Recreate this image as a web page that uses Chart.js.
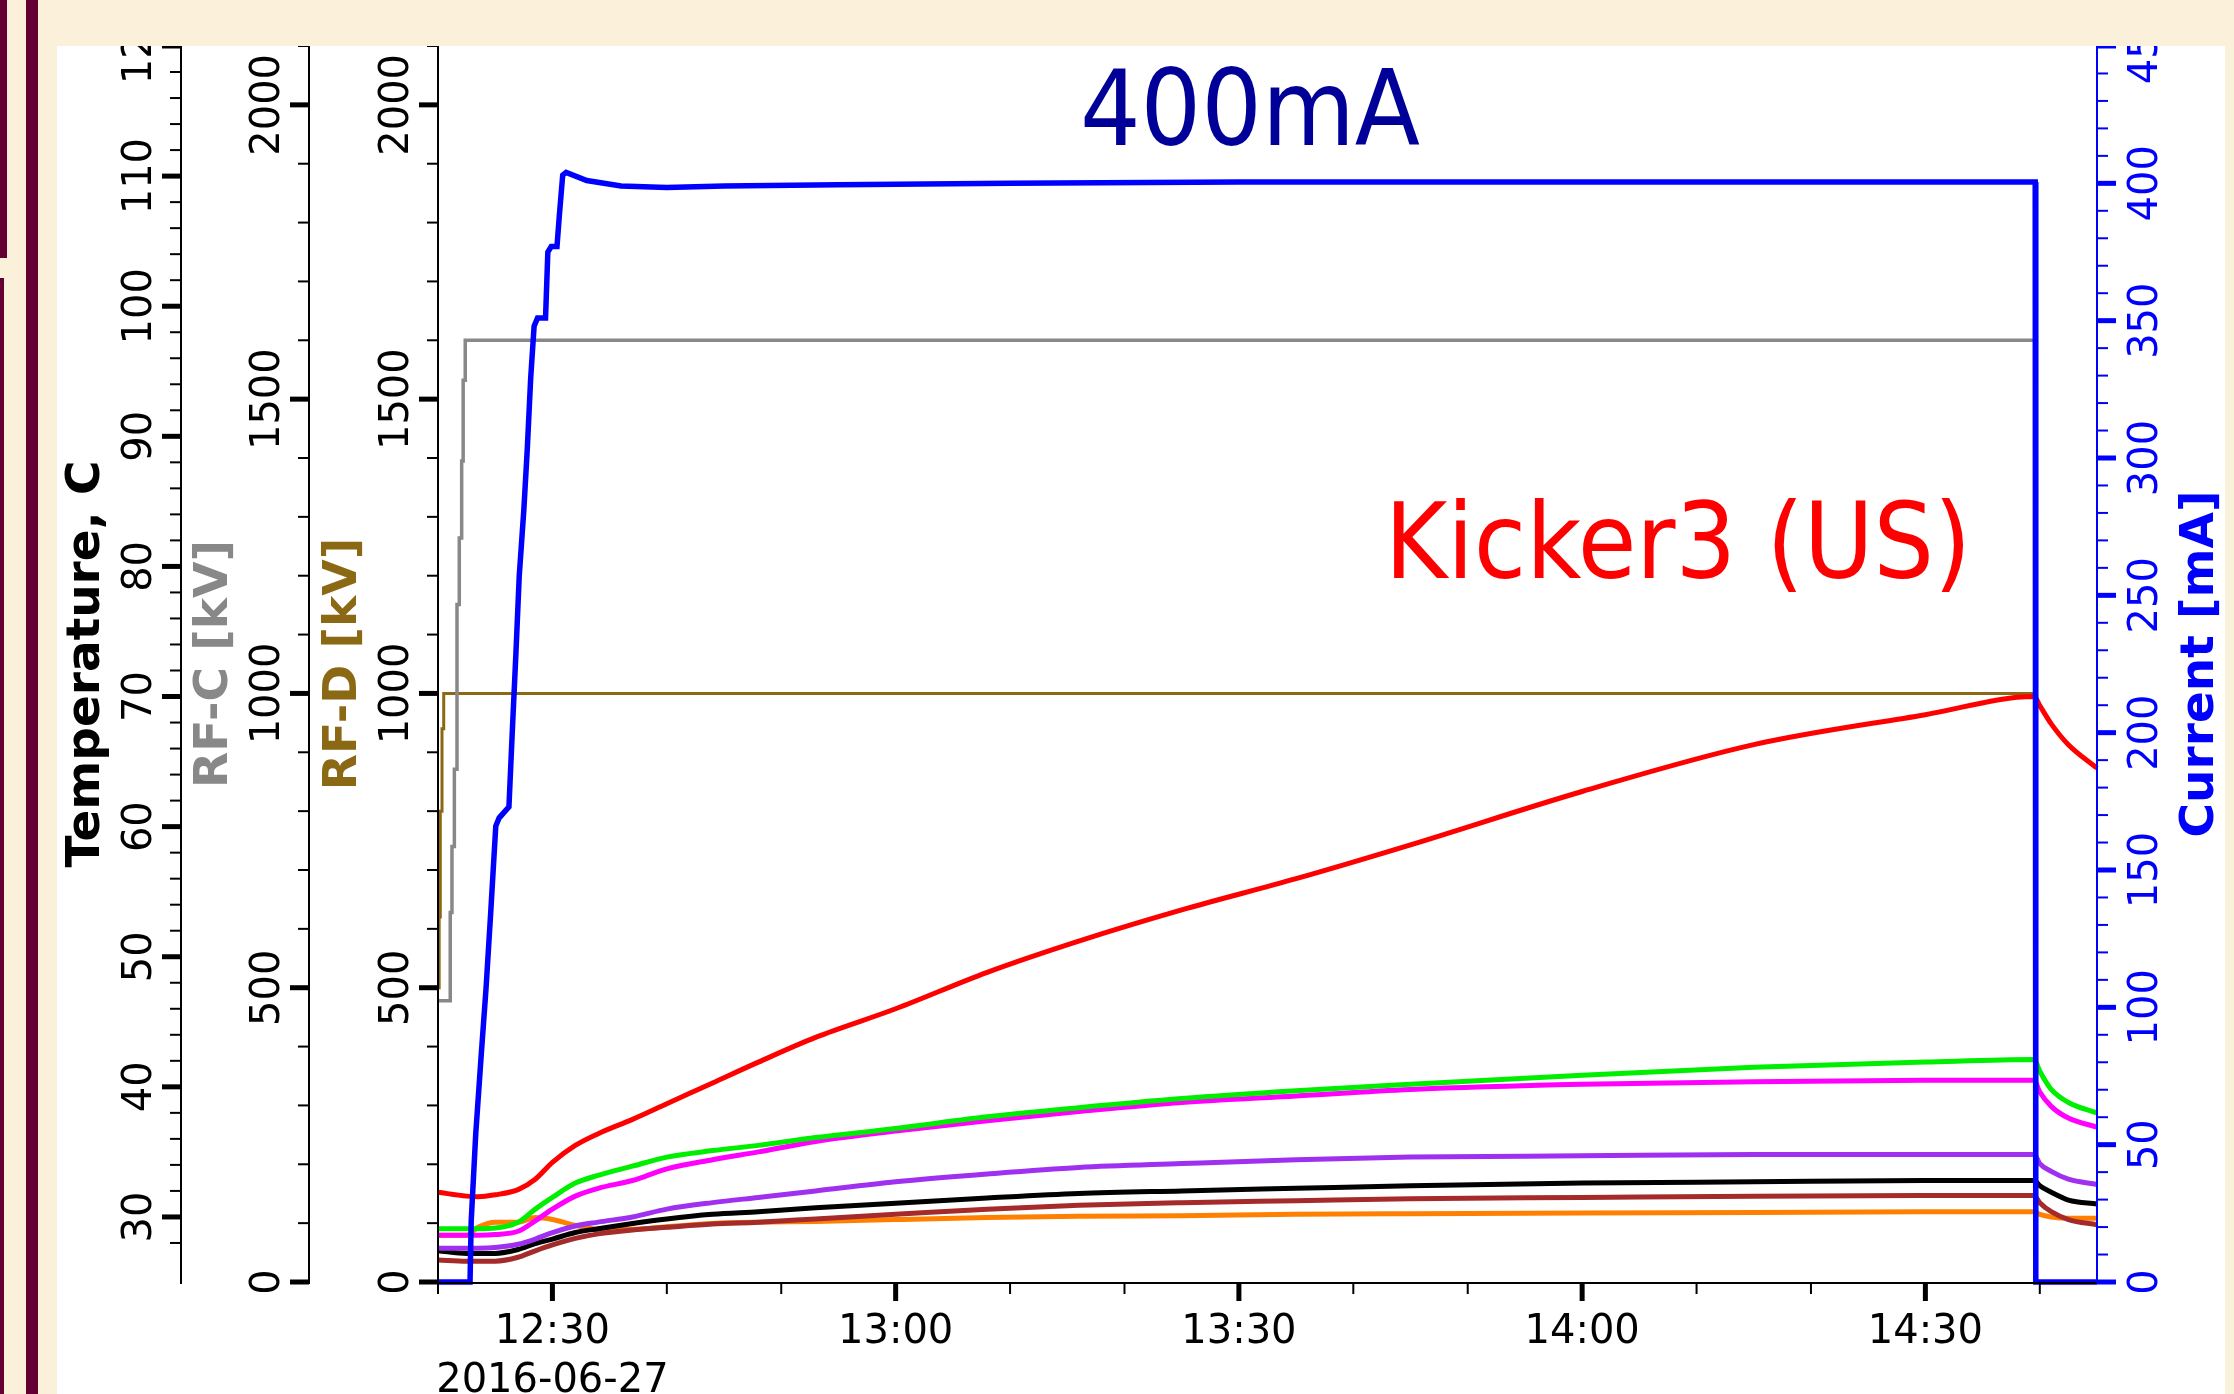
<!DOCTYPE html>
<html>
<head>
<meta charset="utf-8">
<script src="https://cdn.jsdelivr.net/npm/chart.js@4.4.1/dist/chart.umd.min.js"></script>
<style>
  html, body { margin: 0; padding: 0; }
  body { width: 2234px; height: 1394px; background: #fbf0d9; position: relative; overflow: hidden; }
  .bar { position: absolute; background: #640032; }
  #panel { position: absolute; left: 57px; top: 46px; width: 2168px; height: 1348px; background: #fff; }
  .note {
    position: absolute; font-family: "DejaVu Sans Condensed", "DejaVu Sans", sans-serif;
    font-stretch: condensed; font-size: 106px; line-height: 1; white-space: nowrap;
    transform: translateX(-50%);
  }
</style>
</head>
<body>
<div class="bar" style="left:0; top:0; width:7px; height:258px"></div>
<div class="bar" style="left:0; top:278px; width:4px; height:1116px"></div>
<div class="bar" style="left:26px; top:0; width:12px; height:1394px"></div>
<div id="panel"><canvas id="chart"></canvas></div>
<div class="note" style="left:1250px; top:56px; color:#000099">400mA</div>
<div class="note" style="left:1678px; top:489px; color:#ff0000">Kicker3 (US)</div>

<script>
// time axis in minutes after midnight, 2016-06-27
const xMin = 740, xMax = 885;
const xTickValues = [750, 780, 810, 840, 870];
const xTickLabels = ['12:30', '13:00', '13:30', '14:00', '14:30'];
const dateLabel = '2016-06-27';

// beam current [mA]
const currentTime = [740, 742.8, 742.9, 743.3, 743.75, 744.2, 744.6, 745.05, 745.35, 746.2, 746.5, 746.8, 747.1, 747.5, 747.8, 748.1, 748.4, 748.7, 749.4, 749.6, 749.9, 750.4, 750.6, 750.9, 751.2, 753, 756, 760, 765, 775, 790, 810, 830, 850, 870, 879.6, 879.65, 885];
const currentMa = [0, 0, 22, 54, 81, 107, 134, 166, 169, 173, 201, 228, 257, 281, 303, 329, 348, 351, 351, 375, 377, 377, 388, 403, 404, 401, 399, 398.5, 399, 399.5, 400, 400.5, 400.5, 400.5, 400.5, 400.5, 0, 0];

// RF voltages [kV]
const rfcTime = [740, 741, 741.07, 741.22, 741.43, 741.66, 741.86, 742.07, 742.2, 742.38, 879.6, 879.65, 885];
const rfcKv = [478, 478, 628, 740, 871, 1151, 1264, 1395, 1532, 1600, 1600, 0, 0];
const rfdTime = [740, 740.1, 740.2, 740.35, 740.5, 879.6, 879.65, 885];
const rfdKv = [500, 620, 800, 940, 1000, 1000, 0, 0];

// kicker temperatures [C]
const tempTime = [740, 742.5, 743.5, 745, 747, 748.5, 750, 752, 754, 757, 760, 764, 768, 773, 780, 788, 796, 805, 815, 825, 840, 855, 870, 879.5, 880, 881, 882.5, 885];
const tempRed = [31.9, 31.6, 31.55, 31.7, 32.1, 32.9, 34.2, 35.5, 36.4, 37.5, 38.7, 40.3, 41.9, 43.8, 46.0, 48.8, 51.2, 53.6, 56.0, 58.6, 62.7, 66.3, 68.6, 70.0, 69.3, 67.9, 66.3, 64.5];
const tempGreen = [29.1, 29.1, 29.1, 29.15, 29.6, 30.6, 31.5, 32.6, 33.2, 33.9, 34.6, 35.1, 35.5, 36.1, 36.8, 37.7, 38.4, 39.1, 39.7, 40.2, 40.9, 41.5, 41.9, 42.1, 41.2, 39.8, 38.8, 38.0];
const tempMagenta = [28.6, 28.6, 28.6, 28.65, 28.9, 29.7, 30.6, 31.6, 32.2, 32.8, 33.7, 34.4, 35.0, 35.8, 36.6, 37.4, 38.1, 38.8, 39.3, 39.8, 40.2, 40.4, 40.5, 40.5, 39.6, 38.5, 37.6, 36.9];
const tempPurple = [27.6, 27.6, 27.6, 27.65, 27.9, 28.3, 28.8, 29.3, 29.6, 30.0, 30.6, 31.1, 31.5, 32.0, 32.7, 33.3, 33.8, 34.1, 34.4, 34.6, 34.7, 34.8, 34.8, 34.8, 34.1, 33.5, 32.9, 32.5];
const tempBlack = [27.4, 27.2, 27.2, 27.2, 27.5, 27.95, 28.3, 28.8, 29.1, 29.5, 29.85, 30.2, 30.4, 30.7, 31.05, 31.45, 31.8, 32.0, 32.2, 32.4, 32.6, 32.7, 32.8, 32.8, 32.4, 31.9, 31.3, 31.0];
const tempBrown = [26.7, 26.6, 26.6, 26.6, 26.9, 27.4, 27.85, 28.35, 28.7, 29.0, 29.2, 29.45, 29.6, 29.85, 30.2, 30.6, 30.9, 31.1, 31.25, 31.4, 31.5, 31.6, 31.65, 31.65, 31.1, 30.4, 29.8, 29.4];
const tempOrange = [28.6, 28.6, 29.2, 29.6, 29.6, 29.95, 29.8, 29.35, 29.05, 29.05, 29.25, 29.5, 29.6, 29.65, 29.8, 29.95, 30.05, 30.1, 30.2, 30.25, 30.3, 30.35, 30.4, 30.4, 30.2, 30.0, 29.9, 29.9];

const tickFont = '40px "DejaVu Sans"';
const titleFont = 'bold 47px "DejaVu Sans"';

const pts = (xs, ys) => xs.map((x, i) => ({ x, y: ys[i] }));
const isMult = (v, m) => Math.abs(v / m - Math.round(v / m)) < 1e-6;

function tempLine(data, color) {
  return {
    data: pts(tempTime, data), yAxisID: 'yT', borderColor: color,
    borderWidth: 5, cubicInterpolationMode: 'monotone'
  };
}

// vertical axis: line, ticks, rotated labels and title
function drawYAxis(ctx, scale, area, o) {
  const left = scale.position === 'left';
  const ax = left ? scale.right : scale.left;
  const dir = left ? -1 : 1;
  ctx.strokeStyle = o.color;
  ctx.lineWidth = 2;
  ctx.beginPath();
  ctx.moveTo(ax, area.top);
  ctx.lineTo(ax, area.bottom + 2);
  ctx.stroke();
  for (const t of scale.ticks) {
    const v = t.value;
    if (!isMult(v, o.minor)) continue;
    const major = isMult(v, o.major);
    const y = scale.getPixelForValue(v);
    ctx.lineWidth = major ? 5 : 2;
    ctx.beginPath();
    ctx.moveTo(ax, y);
    ctx.lineTo(ax + dir * (major ? 19 : 11), y);
    ctx.stroke();
    if (major) {
      ctx.save();
      ctx.translate(ax + (left ? -30 : 60), y);
      ctx.rotate(-Math.PI / 2);
      ctx.font = tickFont;
      ctx.fillStyle = o.labelColor;
      ctx.textAlign = 'center';
      ctx.textBaseline = 'alphabetic';
      ctx.fillText(String(v), 0, 0);
      ctx.restore();
    }
  }
  ctx.save();
  ctx.translate(ax + (left ? -82 : 116), (area.top + area.bottom) / 2);
  ctx.rotate(-Math.PI / 2);
  ctx.font = titleFont;
  ctx.fillStyle = o.titleColor;
  ctx.textAlign = 'center';
  ctx.textBaseline = 'alphabetic';
  ctx.fillText(o.title, 0, 0);
  ctx.restore();
}

function drawXAxis(ctx, scale, area) {
  const y0 = area.bottom;
  ctx.strokeStyle = '#000';
  ctx.lineWidth = 2;
  ctx.beginPath();
  ctx.moveTo(area.left - 1, y0 + 1);
  ctx.lineTo(area.right, y0 + 1);
  ctx.stroke();
  for (const t of scale.ticks) {
    if (!isMult(t.value, 10)) continue;
    const major = xTickValues.includes(t.value);
    const x = scale.getPixelForValue(t.value);
    ctx.lineWidth = major ? 5 : 2;
    ctx.beginPath();
    ctx.moveTo(x, y0);
    ctx.lineTo(x, y0 + (major ? 19 : 12));
    ctx.stroke();
  }
  ctx.font = tickFont;
  ctx.fillStyle = '#000';
  ctx.textAlign = 'center';
  ctx.textBaseline = 'alphabetic';
  xTickValues.forEach((v, i) => {
    ctx.fillText(xTickLabels[i], scale.getPixelForValue(v), y0 + 61);
  });
  ctx.fillText(dateLabel, scale.getPixelForValue(xTickValues[0]), y0 + 110);
}

const axisPainter = {
  id: 'axisPainter',
  afterDraw(chart) {
    const ctx = chart.ctx;
    const s = chart.scales;
    const area = chart.chartArea;
    ctx.save();
    ctx.lineCap = 'butt';
    drawYAxis(ctx, s.yT, area, { major: 10, minor: 2, color: '#000', labelColor: '#000', title: 'Temperature, C', titleColor: '#000' });
    drawYAxis(ctx, s.yC, area, { major: 500, minor: 100, color: '#000', labelColor: '#000', title: 'RF-C [kV]', titleColor: '#888888' });
    drawYAxis(ctx, s.yD, area, { major: 500, minor: 100, color: '#000', labelColor: '#000', title: 'RF-D [kV]', titleColor: '#8b6914' });
    drawYAxis(ctx, s.yI, area, { major: 50, minor: 10, color: '#0000ff', labelColor: '#0000ff', title: 'Current [mA]', titleColor: '#0000ff' });
    drawXAxis(ctx, s.x, area);
    ctx.restore();
  }
};

function hiddenAxis(extra) {
  return Object.assign({
    type: 'linear',
    grid: { display: false },
    border: { display: false },
    ticks: { display: false, maxTicksLimit: 1000 }
  }, extra);
}

new Chart(document.getElementById('chart'), {
  type: 'line',
  data: {
    datasets: [
      { data: pts(currentTime, currentMa), yAxisID: 'yI', borderColor: '#0000ff', borderWidth: 5.5 },
      tempLine(tempRed, '#ff0000'),
      tempLine(tempGreen, '#00ee00'),
      tempLine(tempMagenta, '#ff00ff'),
      tempLine(tempPurple, '#a030f0'),
      tempLine(tempBlack, '#000000'),
      tempLine(tempBrown, '#a52a2a'),
      tempLine(tempOrange, '#ff8000'),
      { data: pts(rfcTime, rfcKv), yAxisID: 'yC', borderColor: '#888888', borderWidth: 3.5, stepped: true },
      { data: pts(rfdTime, rfdKv), yAxisID: 'yD', borderColor: '#8b6914', borderWidth: 3, stepped: true }
    ]
  },
  options: {
    responsive: true,
    maintainAspectRatio: false,
    animation: false,
    events: [],
    elements: { point: { radius: 0 }, line: { fill: false, borderJoinStyle: 'miter' } },
    datasets: { line: { clip: 4 } },
    layout: { padding: 0 },
    plugins: { legend: { display: false }, tooltip: { enabled: false } },
    scales: {
      x: hiddenAxis({ position: 'bottom', min: xMin, max: xMax, ticks: { display: false, stepSize: 10, maxTicksLimit: 1000 }, afterFit: s => { s.height = 112; } }),
      yT: hiddenAxis({ position: 'left', weight: 3, min: 25, max: 120, ticks: { display: false, stepSize: 2, maxTicksLimit: 1000 }, afterFit: s => { s.width = 124; } }),
      yC: hiddenAxis({ position: 'left', weight: 2, min: 0, max: 2100, ticks: { display: false, stepSize: 100, maxTicksLimit: 1000 }, afterFit: s => { s.width = 128; } }),
      yD: hiddenAxis({ position: 'left', weight: 1, min: 0, max: 2100, ticks: { display: false, stepSize: 100, maxTicksLimit: 1000 }, afterFit: s => { s.width = 129; } }),
      yI: hiddenAxis({ position: 'right', min: 0, max: 450, ticks: { display: false, stepSize: 10, maxTicksLimit: 1000 }, afterFit: s => { s.width = 128; } })
    }
  },
  plugins: [axisPainter]
});
</script>
</body>
</html>
